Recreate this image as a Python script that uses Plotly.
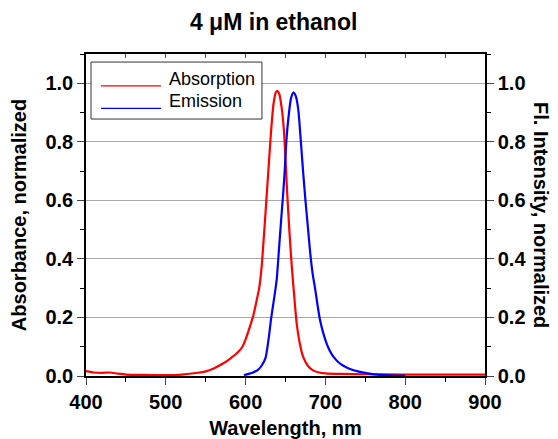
import plotly.graph_objects as go

# Absorption (normalized)
abs_wl = [400, 410, 420, 430, 440, 450, 470, 500, 520, 540, 550, 560, 570, 580, 590,
          596, 600, 605, 610, 614, 617, 620, 623, 626, 629, 632, 635, 638, 640, 642,
          645, 648, 650, 652, 655, 658, 661, 664, 668, 672, 678, 684, 692, 700, 720,
          750, 800, 850, 900]
abs_val = [0.017, 0.012, 0.011, 0.012, 0.008, 0.005, 0.004, 0.003, 0.005, 0.011, 0.016,
           0.026, 0.040, 0.058, 0.080, 0.100, 0.125, 0.165, 0.210, 0.260, 0.300, 0.370,
           0.480, 0.600, 0.720, 0.840, 0.930, 0.970, 0.973, 0.965, 0.920, 0.840, 0.740,
           0.630, 0.490, 0.370, 0.270, 0.180, 0.110, 0.066, 0.035, 0.020, 0.012, 0.009,
           0.007, 0.006, 0.005, 0.005, 0.005]

# Emission (normalized)
em_wl = [598, 605, 610, 615, 620, 625, 629, 632, 636, 639, 642, 645, 647, 649, 651, 654,
         657, 660, 663, 666, 669, 672, 675, 678, 681, 684, 687, 690, 693, 697, 701, 705,
         710, 716, 722, 730, 742, 755, 765, 780, 800]
em_val = [0.003, 0.008, 0.013, 0.020, 0.035, 0.062, 0.130, 0.197, 0.270, 0.330, 0.440,
          0.550, 0.620, 0.700, 0.800, 0.890, 0.950, 0.968, 0.955, 0.910, 0.810, 0.700,
          0.600, 0.510, 0.420, 0.350, 0.300, 0.245, 0.195, 0.150, 0.115, 0.089, 0.066,
          0.048, 0.036, 0.025, 0.015, 0.008, 0.005, 0.002, 0.001]

x_ticks = [400, 500, 600, 700, 800, 900]
y_ticks = [0.0, 0.2, 0.4, 0.6, 0.8, 1.0]
y_labels = ["0.0", "0.2", "0.4", "0.6", "0.8", "1.0"]
series_names = ["Absorption", "Emission"]
series_colors = ["#ff0000", "#0000ff"]

FONT = "Liberation Sans, Arial, sans-serif"
tickfont = dict(family=FONT, size=20, color="black", weight="bold")
titlefont = dict(family=FONT, size=20, color="black", weight="bold")

fig = go.Figure()
fig.add_trace(go.Scatter(x=abs_wl, y=abs_val, mode="lines", name=series_names[0],
                         showlegend=False,
                         line=dict(color=series_colors[0], width=2.2, shape="spline", smoothing=0.6)))
fig.add_trace(go.Scatter(x=em_wl, y=em_val, mode="lines", name=series_names[1],
                         showlegend=False,
                         line=dict(color=series_colors[1], width=2.2, shape="spline", smoothing=0.6)))
# invisible trace to anchor top and right axes
fig.add_trace(go.Scatter(x=[400, 900], y=[0, 0], xaxis="x2", yaxis="y2", mode="lines",
                         line=dict(width=0), showlegend=False, hoverinfo="skip"))

fig.update_layout(
    width=550, height=431,
    margin=dict(l=78, r=73, t=46, b=63, autoexpand=False),
    paper_bgcolor="white", plot_bgcolor="white",
    font=dict(family=FONT, color="black"),
    title=dict(text="4 μM in ethanol", x=0.483, xanchor="center", y=0.9675, yanchor="middle",
               font=dict(family=FONT, size=23, color="black", weight="bold")),
    xaxis=dict(range=[400, 900], tickvals=x_ticks, ticks="outside", ticklen=7, tickwidth=1.2,
               showline=True, linecolor="black", linewidth=1.5, showgrid=False, zeroline=False,
               tickfont=tickfont, automargin=False,
               minor=dict(dtick=50, tick0=400, ticks="outside", ticklen=4, tickwidth=1.2,
                          tickcolor="black", showgrid=False),
               title=dict(text="Wavelength, nm", font=titlefont)),
    xaxis2=dict(range=[400, 900], overlaying="x", side="top", showticklabels=False,
                ticks="inside", ticklen=4, dtick=50, tick0=400, tickwidth=1.2, automargin=False,
                showline=True, linecolor="black", linewidth=1.5, showgrid=False, zeroline=False),
    yaxis=dict(range=[0, 1.1], tickvals=y_ticks, ticktext=y_labels, ticks="outside", ticklen=7,
               tickwidth=1.2, showline=True, linecolor="black", linewidth=1.5,
               showgrid=True, gridcolor="#a8a8a8", gridwidth=1.2, zeroline=False,
               tickfont=tickfont, automargin=False,
               minor=dict(dtick=0.1, tick0=0, ticks="outside", ticklen=4, tickwidth=1.2,
                          tickcolor="black", showgrid=False),
               title=dict(text="Absorbance, normalized", font=titlefont)),
    yaxis2=dict(range=[0, 1.1], overlaying="y", side="right", tickvals=y_ticks, ticktext=y_labels,
                ticks="outside", ticklen=7, tickwidth=1.2, showline=True, linecolor="black",
                linewidth=1.5, showgrid=False, zeroline=False, tickfont=tickfont, automargin=False,
                minor=dict(dtick=0.1, tick0=0, ticks="outside", ticklen=4, tickwidth=1.2,
                           tickcolor="black", showgrid=False)),
    showlegend=False,
)

# Legend box drawn in paper coordinates (Origin-style legend with long line samples)
fig.add_shape(type="rect", xref="paper", yref="paper", x0=0.0125, x1=0.441, y0=0.798, y1=0.975,
              line=dict(color="#333333", width=1), fillcolor="white", layer="above")
legend_rows_y = [0.901, 0.831]
legend_text_y = [0.922, 0.855]
for name, color, ly, ty in zip(series_names, series_colors, legend_rows_y, legend_text_y):
    fig.add_shape(type="line", xref="paper", yref="paper", x0=0.0376, x1=0.188, y0=ly, y1=ly,
                  line=dict(color=color, width=1.3), layer="above")
    fig.add_annotation(text=name, xref="paper", yref="paper", x=0.203, y=ty,
                       xanchor="left", yanchor="middle", showarrow=False,
                       font=dict(family=FONT, size=18, color="black"))

fig.add_annotation(text="Fl. Intensity, normalized", xref="paper", yref="paper",
                   x=1.0, xshift=56, y=0.5, textangle=90, showarrow=False,
                   xanchor="center", yanchor="middle", font=titlefont)

fig.write_html("out.html")
